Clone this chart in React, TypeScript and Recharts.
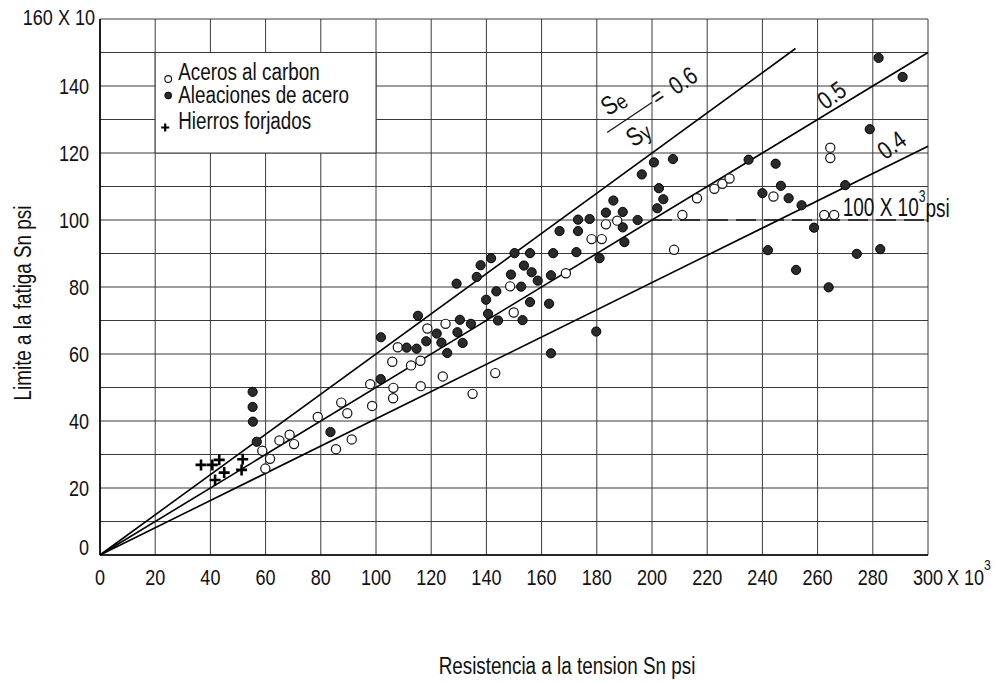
import {
  ScatterChart,
  Scatter,
  XAxis,
  YAxis,
  CartesianGrid,
  ReferenceLine,
  ReferenceArea,
  ReferenceDot,
} from "recharts";

// Se vs Sy scatter: carbon steels, alloy steels, wrought iron
const carbonSteels = [
  { x: 58.8, y: 31.1 }, { x: 59.9, y: 25.8 }, { x: 61.6, y: 28.7 }, { x: 65.0, y: 34.2 },
  { x: 68.7, y: 35.9 }, { x: 70.3, y: 33.1 }, { x: 78.9, y: 41.2 }, { x: 85.5, y: 31.6 },
  { x: 87.4, y: 45.5 }, { x: 89.6, y: 42.3 }, { x: 91.2, y: 34.5 }, { x: 97.9, y: 51.0 },
  { x: 98.6, y: 44.5 }, { x: 105.9, y: 57.7 }, { x: 106.2, y: 46.8 }, { x: 106.3, y: 49.9 },
  { x: 107.9, y: 62.0 }, { x: 112.7, y: 56.6 }, { x: 116.1, y: 58.0 }, { x: 116.2, y: 50.4 },
  { x: 118.6, y: 67.6 }, { x: 124.2, y: 53.3 }, { x: 125.2, y: 69.0 }, { x: 135.0, y: 48.1 },
  { x: 143.2, y: 54.3 }, { x: 148.6, y: 80.2 }, { x: 149.9, y: 72.4 }, { x: 168.8, y: 84.1 },
  { x: 178.1, y: 94.3 }, { x: 181.8, y: 94.3 }, { x: 183.3, y: 98.7 }, { x: 187.4, y: 99.8 },
  { x: 208.0, y: 91.1 }, { x: 211.0, y: 101.5 }, { x: 216.3, y: 106.5 }, { x: 222.6, y: 109.3 },
  { x: 225.5, y: 110.8 }, { x: 228.1, y: 112.4 }, { x: 244.0, y: 107.0 }, { x: 262.4, y: 101.5 },
  { x: 264.6, y: 121.6 }, { x: 264.6, y: 118.5 }, { x: 266.0, y: 101.5 },
];

const alloySteels = [
  { x: 55.3, y: 48.7 }, { x: 55.3, y: 44.2 }, { x: 55.4, y: 39.8 }, { x: 56.8, y: 33.8 },
  { x: 83.5, y: 36.7 }, { x: 101.7, y: 52.5 }, { x: 101.8, y: 65.0 }, { x: 111.1, y: 61.9 },
  { x: 114.7, y: 61.6 }, { x: 115.2, y: 71.4 }, { x: 118.2, y: 63.8 }, { x: 122.0, y: 66.1 },
  { x: 123.7, y: 63.4 }, { x: 125.8, y: 60.3 }, { x: 129.2, y: 81.0 }, { x: 129.5, y: 66.5 },
  { x: 130.4, y: 70.2 }, { x: 131.4, y: 63.3 }, { x: 134.4, y: 69.0 }, { x: 136.5, y: 83.0 },
  { x: 137.9, y: 86.5 }, { x: 139.9, y: 76.2 }, { x: 140.6, y: 72.0 }, { x: 141.7, y: 88.6 },
  { x: 143.6, y: 78.7 }, { x: 144.2, y: 70.0 }, { x: 148.9, y: 83.7 }, { x: 150.2, y: 90.1 },
  { x: 152.6, y: 80.1 }, { x: 153.1, y: 70.1 }, { x: 153.6, y: 86.4 }, { x: 155.8, y: 90.1 },
  { x: 155.8, y: 75.5 }, { x: 156.4, y: 84.4 }, { x: 158.6, y: 81.9 }, { x: 162.7, y: 75.0 },
  { x: 163.4, y: 83.5 }, { x: 163.4, y: 60.2 }, { x: 164.2, y: 90.1 }, { x: 166.5, y: 96.7 },
  { x: 172.6, y: 90.4 }, { x: 173.2, y: 96.7 }, { x: 173.2, y: 100.1 }, { x: 177.4, y: 100.3 },
  { x: 179.8, y: 66.7 }, { x: 181.0, y: 88.6 }, { x: 183.3, y: 102.2 }, { x: 186.0, y: 105.8 },
  { x: 189.4, y: 102.4 }, { x: 189.4, y: 97.8 }, { x: 190.0, y: 93.4 }, { x: 194.8, y: 100.0 },
  { x: 196.3, y: 113.6 }, { x: 200.7, y: 117.2 }, { x: 201.9, y: 103.5 }, { x: 202.5, y: 109.5 },
  { x: 204.1, y: 106.2 }, { x: 207.6, y: 118.2 }, { x: 235.0, y: 118.0 }, { x: 240.0, y: 108.0 },
  { x: 242.0, y: 91.0 }, { x: 244.8, y: 116.8 }, { x: 246.7, y: 110.2 }, { x: 249.5, y: 106.5 },
  { x: 252.2, y: 85.1 }, { x: 254.2, y: 104.4 }, { x: 258.7, y: 97.7 }, { x: 264.0, y: 79.9 },
  { x: 270.0, y: 110.4 }, { x: 274.2, y: 89.9 }, { x: 278.9, y: 127.1 }, { x: 282.1, y: 148.4 },
  { x: 282.7, y: 91.3 }, { x: 290.8, y: 142.7 },
];

const wroughtIrons = [
  { x: 36.6, y: 26.9 }, { x: 40.7, y: 26.9 }, { x: 43.2, y: 28.4 }, { x: 45.0, y: 24.6 },
  { x: 41.7, y: 22.4 }, { x: 51.7, y: 28.6 }, { x: 51.3, y: 25.4 },
];

// Se/Sy ratio lines drawn from the origin
const ratioLines = [
  { ratio: "0.6", xEnd: 252, yEnd: 151.2 },
  { ratio: "0.5", xEnd: 300, yEnd: 150 },
  { ratio: "0.4", xEnd: 300, yEnd: 122 },
];

const limitLevel = 100;
const limitStart = 200;

const xTicks = [0, 20, 40, 60, 80, 100, 120, 140, 160, 180, 200, 220, 240, 260, 280, 300];
const yTicks = [0, 10, 20, 30, 40, 50, 60, 70, 80, 90, 100, 110, 120, 130, 140, 150, 160];

const legendItems = [
  { label: "Aceros al carbon", kind: "open" },
  { label: "Aleaciones de acero", kind: "filled" },
  { label: "Hierros forjados", kind: "cross" },
];

const FONT = '"Liberation Sans", Arial, sans-serif';
const GRID = "#3a3a3a";

function Narrow({ x, y, size = 22, anchor = "middle", rotate = 0, squeeze = 0.82, children }: any) {
  return (
    <g transform={`translate(${x},${y}) rotate(${rotate}) scale(${squeeze},1)`}>
      <text
        x={0}
        y={0}
        fontSize={size}
        fontFamily={FONT}
        textAnchor={anchor}
        dominantBaseline="central"
        fill="#111"
      >
        {children}
      </text>
    </g>
  );
}

const OpenDot = (p: any) => (
  <circle cx={p.cx} cy={p.cy} r={4.6} fill="#fff" stroke="#111" strokeWidth={1.2} />
);
const FilledDot = (p: any) => (
  <circle cx={p.cx} cy={p.cy} r={4.6} fill="#2b2b2b" stroke="#000" strokeWidth={1} />
);
const Cross = (p: any) => {
  const s = p.s ?? 5.5;
  return (
    <path
      d={`M${p.cx - s},${p.cy}H${p.cx + s}M${p.cx},${p.cy - s}V${p.cy + s}`}
      stroke="#000"
      strokeWidth={p.w ?? 2.6}
    />
  );
};

function XTick({ x, y, payload }: any) {
  const v = payload.value;
  if (v === 300) {
    return (
      <g>
        <Narrow x={x} y={y + 14}>300</Narrow>
        <Narrow x={x + 19} y={y + 14} anchor="start">
          {"X 10"}
          <tspan dy={-12} fontSize={15}>3</tspan>
        </Narrow>
      </g>
    );
  }
  return <Narrow x={x} y={y + 14}>{v}</Narrow>;
}

function YTick({ x, y, payload }: any) {
  const v = payload.value;
  if (v % 20 !== 0) return <g />;
  if (v === 160) {
    return <Narrow x={x + 3} y={y - 2} anchor="end">160 X 10</Narrow>;
  }
  return (
    <Narrow x={x - 3} y={v === 0 ? y - 8 : y} anchor="end">
      {v}
    </Narrow>
  );
}

function LegendBox({ cx, cy }: any) {
  const rows = [19, 42, 68];
  const marks = [26.5, 43, 75];
  return (
    <g>
      {legendItems.map((it, i) => (
        <g key={it.label}>
          {it.kind === "open" && (
            <circle cx={cx + 13} cy={cy + marks[i]} r={3.4} fill="#fff" stroke="#111" strokeWidth={1.1} />
          )}
          {it.kind === "filled" && (
            <circle cx={cx + 13} cy={cy + marks[i]} r={3.4} fill="#2b2b2b" stroke="#000" />
          )}
          {it.kind === "cross" && <Cross cx={cx + 10} cy={cy + marks[i]} s={4} w={2.2} />}
          <Narrow x={cx + 23} y={cy + rows[i]} anchor="start" size={23}>
            {it.label}
          </Narrow>
        </g>
      ))}
    </g>
  );
}

function RatioLabel({ cx, cy }: any) {
  return (
    <g transform={`translate(${cx},${cy}) rotate(-34)`}>
      <Narrow x={0} y={0} size={26}>
        S<tspan fontSize={22} dy={4}>e</tspan>
      </Narrow>
      <line x1={-22} y1={22} x2={32} y2={22} stroke="#111" strokeWidth={1.2} />
      <Narrow x={3} y={40} size={26}>
        S<tspan fontSize={22} dy={3}>y</tspan>
      </Narrow>
      <Narrow x={40} y={20} size={24}>=</Narrow>
      <Narrow x={70} y={21} size={25}>{ratioLines[0].ratio}</Narrow>
    </g>
  );
}

export default function App() {
  return (
    <div style={{ position: "absolute", left: 0, top: 0, width: 995, height: 682, background: "#fff" }}>
      <ScatterChart width={995} height={682} margin={{ top: 19, right: 67, bottom: 0, left: 0 }}>
        <CartesianGrid stroke={GRID} strokeWidth={1} />
        <XAxis
          type="number"
          dataKey="x"
          domain={[0, 300]}
          ticks={xTicks}
          interval={0}
          height={127}
          tickLine={false}
          axisLine={{ stroke: "#000", strokeWidth: 1.6 }}
          tick={(p: any) => <XTick {...p} />}
          label={() => (
            <Narrow x={567} y={666} size={23}>
              Resistencia a la tension Sn psi
            </Narrow>
          )}
        />
        <YAxis
          type="number"
          dataKey="y"
          domain={[0, 160]}
          ticks={yTicks}
          interval={0}
          width={100}
          tickLine={false}
          axisLine={{ stroke: "#000", strokeWidth: 1.6 }}
          tick={(p: any) => <YTick {...p} />}
          label={() => (
            <Narrow x={23} y={303} size={23} rotate={-90}>
              Limite a la fatiga Sn  psi
            </Narrow>
          )}
        />
        <ReferenceArea
          x1={20}
          x2={100}
          y1={120}
          y2={150}
          fill="#fff"
          fillOpacity={1}
          stroke={GRID}
          strokeWidth={1}
        />
        {ratioLines.map((l) => (
          <ReferenceLine
            key={l.ratio}
            segment={[{ x: 0, y: 0 }, { x: l.xEnd, y: l.yEnd }]}
            stroke="#000"
            strokeWidth={1.6}
          />
        ))}
        <ReferenceLine
          segment={[{ x: limitStart, y: limitLevel }, { x: 300, y: limitLevel }]}
          stroke="#111"
          strokeWidth={1.6}
          strokeDasharray="20 8"
        />
        <Scatter data={carbonSteels} shape={OpenDot} isAnimationActive={false} />
        <Scatter data={alloySteels} shape={FilledDot} isAnimationActive={false} />
        <Scatter data={wroughtIrons} shape={Cross} isAnimationActive={false} />
        <ReferenceDot x={20} y={150} r={0} shape={(p: any) => <LegendBox {...p} />} />
        <ReferenceDot x={185.9} y={135.2} r={0} shape={(p: any) => <RatioLabel {...p} />} />
        <ReferenceDot
          x={265.1}
          y={137.3}
          r={0}
          shape={(p: any) => (
            <Narrow x={p.cx} y={p.cy} size={25} rotate={-36}>
              {ratioLines[1].ratio}
            </Narrow>
          )}
        />
        <ReferenceDot
          x={286.8}
          y={122.4}
          r={0}
          shape={(p: any) => (
            <Narrow x={p.cx} y={p.cy} size={25} rotate={-36}>
              {ratioLines[2].ratio}
            </Narrow>
          )}
        />
        <ReferenceDot
          x={269.1}
          y={103.6}
          r={0}
          ifOverflow="visible"
          shape={(p: any) => (
            <Narrow x={p.cx} y={p.cy} size={25} anchor="start" squeeze={0.76}>
              {"100 X 10"}
              <tspan dy={-12} fontSize={16}>3</tspan>
              <tspan dy={12}>psi</tspan>
            </Narrow>
          )}
        />
      </ScatterChart>
    </div>
  );
}
